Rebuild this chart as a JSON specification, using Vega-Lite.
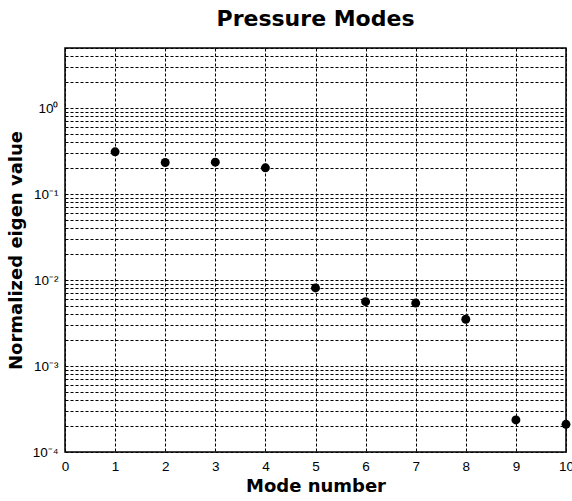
{
  "$schema": "https://vega.github.io/schema/vega-lite/v6.json",
  "width": 501,
  "height": 404,
  "autosize": {"type": "none"},
  "padding": {"left": 65, "top": 48, "right": 6, "bottom": 49},
  "background": "white",
  "title": {
    "text": "Pressure Modes",
    "font": "DejaVu Sans",
    "fontWeight": "bold",
    "fontSize": 22,
    "color": "black",
    "anchor": "middle",
    "offset": 10
  },
  "data": {
    "values": [
      {"mode": 1, "eig": 0.31},
      {"mode": 2, "eig": 0.233},
      {"mode": 3, "eig": 0.235},
      {"mode": 4, "eig": 0.202},
      {"mode": 5, "eig": 0.0081},
      {"mode": 6, "eig": 0.0056},
      {"mode": 7, "eig": 0.0054},
      {"mode": 8, "eig": 0.0035},
      {"mode": 9, "eig": 0.000236},
      {"mode": 10, "eig": 0.00021}
    ]
  },
  "mark": {"type": "point", "filled": true, "shape": "circle", "size": 80, "color": "black", "opacity": 1},
  "encoding": {
    "x": {
      "field": "mode",
      "type": "quantitative",
      "scale": {"domain": [0, 10], "nice": false, "zero": false},
      "axis": {
        "title": "Mode number",
        "values": [0, 1, 2, 3, 4, 5, 6, 7, 8, 9, 10],
        "format": "d",
        "grid": true,
        "gridColor": "black",
        "gridOpacity": 1,
        "gridDash": [3, 2],
        "gridWidth": 1,
        "domain": false,
        "ticks": false,
        "labelFont": "Liberation Sans",
        "labelFontSize": 13.5,
        "labelColor": "black",
        "labelPadding": 7,
        "labelFlush": false,
        "titleFont": "DejaVu Sans",
        "titleFontWeight": "bold",
        "titleFontSize": 18,
        "titleColor": "black",
        "titlePadding": 5
      }
    },
    "y": {
      "field": "eig",
      "type": "quantitative",
      "scale": {"type": "log", "domain": [0.0001, 5], "nice": false, "zero": false},
      "axis": {
        "title": "Normalized eigen value",
        "values": [0.0001, 0.0002, 0.0003, 0.0004, 0.0005, 0.0006, 0.0007, 0.0008, 0.0009,
                   0.001, 0.002, 0.003, 0.004, 0.005, 0.006, 0.007, 0.008, 0.009,
                   0.01, 0.02, 0.03, 0.04, 0.05, 0.06, 0.07, 0.08, 0.09,
                   0.1, 0.2, 0.3, 0.4, 0.5, 0.6, 0.7, 0.8, 0.9,
                   1, 2, 3, 4, 5],
        "labelExpr": "datum.value == 1 ? '10⁰' : datum.value == 0.1 ? '10⁻¹' : datum.value == 0.01 ? '10⁻²' : datum.value == 0.001 ? '10⁻³' : datum.value == 0.0001 ? '10⁻⁴' : ''",
        "labelOverlap": false,
        "labelFlush": false,
        "grid": true,
        "gridColor": "black",
        "gridOpacity": 1,
        "gridDash": [3, 2],
        "gridWidth": 1,
        "domain": false,
        "ticks": false,
        "labelFont": "Liberation Sans",
        "labelFontSize": 13.5,
        "labelColor": "black",
        "labelPadding": 7,
        "titleFont": "DejaVu Sans",
        "titleFontWeight": "bold",
        "titleFontSize": 18,
        "titleColor": "black",
        "titlePadding": 7
      }
    }
  },
  "config": {
    "view": {"stroke": "black", "strokeWidth": 1.5}
  }
}
